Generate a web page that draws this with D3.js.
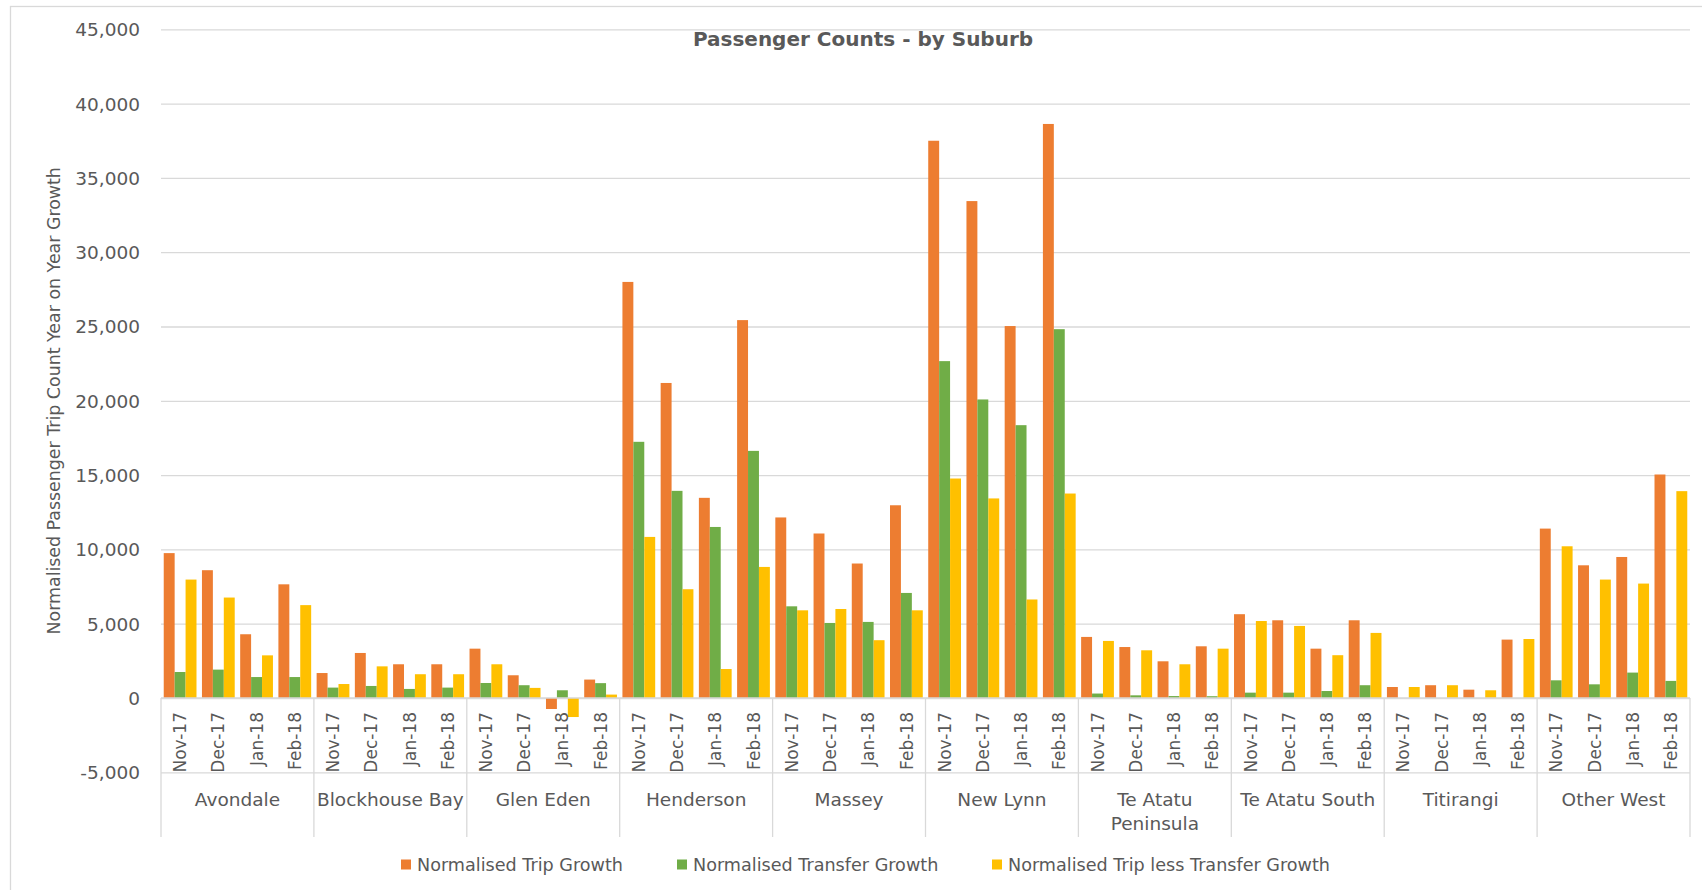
<!DOCTYPE html>
<html>
<head>
<meta charset="utf-8">
<script src="https://cdn.jsdelivr.net/npm/d3@7"></script>
<style>
  html, body { margin: 0; padding: 0; background: #ffffff; }
  svg { display: block; }
  text { font-family: "DejaVu Sans", sans-serif; fill: #595959; }
</style>
</head>
<body>
<svg id="chart" width="1702" height="890"></svg>
<script>
// ---------- data ----------
const title = "Passenger Counts - by Suburb";
const yAxisTitle = "Normalised Passenger Trip Count Year on Year Growth";
const suburbs = ["Avondale", "Blockhouse Bay", "Glen Eden", "Henderson", "Massey",
  "New Lynn", "Te Atatu Peninsula", "Te Atatu South", "Titirangi", "Other West"];
const months = ["Nov-17", "Dec-17", "Jan-18", "Feb-18"];
const seriesNames = ["Normalised Trip Growth", "Normalised Transfer Growth",
  "Normalised Trip less Transfer Growth"];
const seriesColors = ["#ED7D31", "#70AD47", "#FFC000"];

// values in suburb order, 4 months each (Nov-17, Dec-17, Jan-18, Feb-18)
const tripGrowth = [
  9750, 8600, 4290, 7650,
  1680, 3030, 2270, 2270,
  3320, 1530, -740, 1240,
  28000, 21200, 13470, 25430,
  12150, 11070, 9050, 12970,
  37500, 33440, 25030, 38630,
  4110, 3430, 2470, 3480,
  5640, 5230, 3320, 5230,
  740, 860, 560, 3930,
  11400, 8930, 9490, 15040
];
const transferGrowth = [
  1750, 1910, 1410, 1410,
  700, 810, 610, 700,
  1010, 860, 520, 1000,
  17240, 13940, 11510, 16630,
  6170, 5050, 5120, 7070,
  22670, 20090, 18360, 24820,
  300, 180, 130, 120,
  360, 360, 470, 860,
  0, 0, 0, 0,
  1190, 920, 1710, 1150
];
const tripLessTransfer = [
  7970, 6760, 2870, 6250,
  940, 2130, 1600, 1600,
  2270, 680, -1280, 230,
  10840, 7320, 1950, 8820,
  5900, 5990, 3890, 5900,
  14770, 13430, 6630, 13760,
  3840, 3210, 2270, 3320,
  5180, 4850, 2880, 4380,
  740, 860, 520, 3970,
  10210, 7970, 7700, 13920
];
const yTicks = [-5000, 0, 5000, 10000, 15000, 20000, 25000, 30000, 35000, 40000, 45000];

// ---------- layout ----------
const W = 1702, H = 890;
const plot = { left: 161, right: 1690, top: 29.3, bottom: 772.3 };
const groupLineBottom = 837;
const gridColor = "#d9d9d9";

const svg = d3.select("#chart");

// chart border
svg.append("rect")
  .attr("x", 10.5).attr("y", 6.5)
  .attr("width", W).attr("height", H + 20)
  .attr("fill", "none").attr("stroke", gridColor).attr("stroke-width", 1.3);

const seriesData = [tripGrowth, transferGrowth, tripLessTransfer];
const rows = [];
suburbs.forEach((s, si) => months.forEach((m, mi) => {
  rows.push({ key: s + "|" + m, suburb: s, month: m, vals: seriesData.map(a => a[si * months.length + mi]) });
}));

const xGroup = d3.scaleBand().domain(suburbs).range([plot.left, plot.right]).padding(0);
const x0 = d3.scaleBand().domain(rows.map(r => r.key)).range([plot.left, plot.right]).padding(0);
const x1 = d3.scaleBand().domain(d3.range(3)).range([0, x0.bandwidth()]).paddingInner(0).paddingOuter(0.25);
const y = d3.scaleLinear().domain([-5000, 45000]).range([plot.bottom, plot.top]);

// gridlines + tick labels (hyphen minus as in the original)
const fmt = d3.format(",");
const yAxis = d3.axisLeft(y).tickValues(yTicks).tickSize(-(plot.right - plot.left))
  .tickFormat(d => fmt(d).replace("\u2212", "-"));
const gy = svg.append("g").attr("transform", `translate(${plot.left},0)`).call(yAxis);
gy.select(".domain").remove();
gy.selectAll(".tick line").attr("stroke", gridColor).attr("stroke-width", 1.3);
gy.selectAll(".tick text")
  .attr("x", -21).attr("dy", "0.35em")
  .style("font-family", "DejaVu Sans, sans-serif")
  .style("font-size", "18.5px").style("fill", "#595959");

// bars
const g = svg.append("g");
rows.forEach(r => {
  r.vals.forEach((v, i) => {
    g.append("rect")
      .attr("x", x0(r.key) + x1(i))
      .attr("width", x1.bandwidth())
      .attr("y", Math.min(y(v), y(0)))
      .attr("height", Math.abs(y(v) - y(0)))
      .attr("fill", seriesColors[i]);
  });
});

// zero axis line
svg.append("line")
  .attr("x1", plot.left).attr("x2", plot.right)
  .attr("y1", y(0)).attr("y2", y(0))
  .attr("stroke", gridColor).attr("stroke-width", 1.3);

// group separators
const seps = suburbs.map(s => xGroup(s)).concat([plot.right]);
svg.selectAll(".sep").data(seps).enter().append("line")
  .attr("x1", d => d).attr("x2", d => d)
  .attr("y1", y(0)).attr("y2", groupLineBottom)
  .attr("stroke", gridColor).attr("stroke-width", 1.3);

// month labels
svg.selectAll(".mlab").data(rows).enter().append("text")
  .attr("transform", d => `translate(${x0(d.key) + x0.bandwidth() / 2},${y(0) + 14}) rotate(-90)`)
  .attr("text-anchor", "end")
  .attr("dy", "0.36em")
  .style("font-size", "17px")
  .text(d => d.month);

// suburb labels (wrapped)
const maxW = xGroup.bandwidth() + 4;
suburbs.forEach(s => {
  const cx = xGroup(s) + xGroup.bandwidth() / 2;
  const t = svg.append("text")
    .attr("x", cx)
    .attr("y", 806)
    .attr("text-anchor", "middle")
    .style("font-size", "18.5px");
  const words = s.split(" ");
  let line = [];
  let tspan = t.append("tspan").attr("x", cx).attr("dy", 0);
  words.forEach(w => {
    line.push(w);
    tspan.text(line.join(" "));
    if (tspan.node().getComputedTextLength() > maxW && line.length > 1) {
      line.pop();
      tspan.text(line.join(" "));
      line = [w];
      tspan = t.append("tspan").attr("x", cx).attr("dy", "1.32em").text(w);
    }
  });
});

// title
svg.append("text")
  .attr("x", 863).attr("y", 46)
  .attr("text-anchor", "middle")
  .style("font-size", "20px").style("font-weight", "bold")
  .text(title);

// y axis title
svg.append("text")
  .attr("transform", `translate(54,${(plot.top + plot.bottom) / 2}) rotate(-90)`)
  .attr("text-anchor", "middle")
  .attr("dy", "0.35em")
  .style("font-size", "17.4px")
  .text(yAxisTitle);

// legend
const legendX = [401, 677, 992];
seriesNames.forEach((n, i) => {
  svg.append("rect")
    .attr("x", legendX[i]).attr("y", 859.5)
    .attr("width", 10).attr("height", 10)
    .attr("fill", seriesColors[i]);
  svg.append("text")
    .attr("x", legendX[i] + 16).attr("y", 870.5)
    .style("font-size", "17.6px")
    .text(n);
});
</script>
</body>
</html>
